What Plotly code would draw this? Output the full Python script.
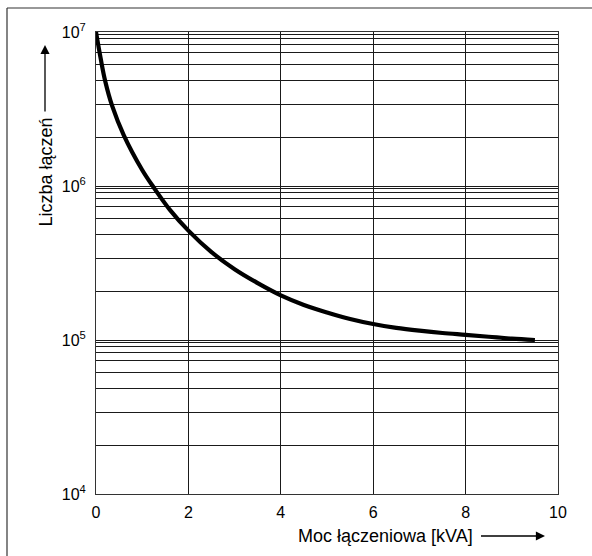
import plotly.graph_objects as go

# ---- data ----
power_kva = [0.0, 0.1, 0.2, 0.35, 0.6, 1.0, 1.25, 1.6, 2.0, 2.5, 3.0, 3.5, 4.0, 4.5, 5.0,
             5.5, 6.0, 6.5, 7.0, 7.5, 8.0, 8.5, 9.0, 9.5]
switch_count = [1.0e7, 6.76e6, 4.79e6, 3.31e6, 2.14e6, 1.27e6, 9.77e5, 7.0e5, 5.13e5, 3.72e5,
                2.88e5, 2.34e5, 1.95e5, 1.69e5, 1.51e5, 1.37e5, 1.27e5, 1.20e5, 1.15e5,
                1.11e5, 1.08e5, 1.05e5, 1.02e5, 1.0e5]

x_ticks = [0, 2, 4, 6, 8, 10]
y_ticks = [1e4, 1e5, 1e6, 1e7]
y_ticktext = ["10<sup>4</sup>", "10<sup>5</sup>", "10<sup>6</sup>", "10<sup>7</sup>"]
# position of the minor grid lines inside each decade, as seen in the reference (fraction below upper decade)
grid_fractions = [0.018, 0.045, 0.082, 0.135, 0.208, 0.317, 0.472, 0.687]

x_title = "Moc łączeniowa [kVA]"
y_title = "Liczba łączeń"

# ---- layout geometry ----
W, H = 592, 556
ML, MR, MT, MB = 96, 34, 32, 62
PW, PH = W - ML - MR, H - MT - MB

def px_x(p):
    return (p - ML) / PW

def px_y(p):
    return (H - MB - p) / PH

minor_vals = []
for upper in (5, 6, 7):
    for f in grid_fractions:
        minor_vals.append(10 ** (upper - f))

FONT = "Liberation Sans, Arial, sans-serif"
GRID = "#1a1a1a"

fig = go.Figure()
fig.add_trace(go.Scatter(
    x=power_kva, y=switch_count, mode="lines",
    line=dict(color="black", width=4.2, shape="spline", smoothing=1.0),
    showlegend=False, hoverinfo="skip",
))

fig.update_layout(
    width=W, height=H,
    margin=dict(l=ML, r=MR, t=MT, b=MB),
    paper_bgcolor="white", plot_bgcolor="white",
    font=dict(family=FONT, size=16, color="black"),
    xaxis=dict(
        range=[0, 10], tickvals=x_ticks, showgrid=True, gridcolor=GRID, gridwidth=1,
        zeroline=False, showline=True, linecolor="#333", linewidth=1, mirror=True,
        ticks="outside", ticklen=4, tickcolor="rgba(0,0,0,0)",
        tickfont=dict(size=16, family=FONT),
    ),
    yaxis=dict(
        type="log", range=[4, 7], tickvals=y_ticks, ticktext=y_ticktext,
        showgrid=True, gridcolor=GRID, gridwidth=1,
        minor=dict(tickvals=minor_vals, showgrid=True, gridcolor=GRID, gridwidth=1),
        zeroline=False, showline=True, linecolor="#333", linewidth=1, mirror=True,
        ticks="outside", ticklen=6, tickcolor="rgba(0,0,0,0)",
        tickfont=dict(size=16, family=FONT),
    ),
)

# outer frame (left and top edges visible in the reference)
fig.add_shape(type="line", xref="paper", yref="paper",
              x0=px_x(7), x1=px_x(W), y0=px_y(8), y1=px_y(8),
              line=dict(color="#333", width=1.2))
fig.add_shape(type="line", xref="paper", yref="paper",
              x0=px_x(7), x1=px_x(7), y0=px_y(8), y1=px_y(H),
              line=dict(color="#333", width=1.2))

# axis titles, each with its arrow (arrow head at x/y, text offset by ax/ay pixels)
fig.add_annotation(text=x_title, xref="paper", yref="paper",
                   x=px_x(545), y=px_y(536), ax=385 - 545, ay=0,
                   showarrow=True, arrowhead=2, arrowsize=1.4, arrowwidth=1.3,
                   arrowcolor="black", borderpad=8,
                   font=dict(size=18, family=FONT))
fig.add_annotation(text=y_title, xref="paper", yref="paper", textangle=-90,
                   x=px_x(45), y=px_y(45), ax=0, ay=172.5 - 45,
                   showarrow=True, arrowhead=2, arrowsize=1.4, arrowwidth=1.3,
                   arrowcolor="black", borderpad=6,
                   font=dict(size=18, family=FONT))

fig.write_html("out.html", config={"displayModeBar": False},
               post_script="document.body.style.margin='0px';")
